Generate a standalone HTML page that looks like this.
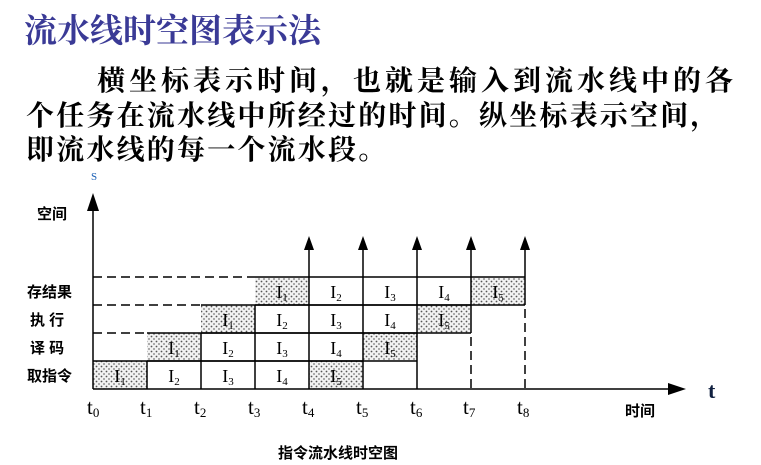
<!DOCTYPE html>
<html><head><meta charset="utf-8"><style>
html,body{margin:0;padding:0;background:#fff;}
body{width:761px;height:465px;position:relative;overflow:hidden;font-family:"Liberation Sans","Noto Sans CJK SC",sans-serif;}
.t{position:absolute;white-space:nowrap;}
.p{font-family:"Liberation Serif","Noto Serif CJK SC",serif;}
</style></head><body>
<div class="t p" style="left:24px;top:10px;font-size:33px;color:#3a3a96;font-weight:bold;letter-spacing:0px;line-height:44px;">流水线时空图表示法</div>
<div class="t p" style="left:97px;top:63px;font-size:28px;font-weight:bold;letter-spacing:4px;line-height:38px;">横坐标表示时间，也就是输入到流水线中的各</div>
<div class="t p" style="left:26px;top:98px;font-size:28px;font-weight:bold;letter-spacing:2.2px;line-height:38px;">个任务在流水线中所经过的时间。纵坐标表示空间，</div>
<div class="t p" style="left:26px;top:132px;font-size:28px;font-weight:bold;letter-spacing:2.2px;line-height:38px;">即流水线的每一个流水段。</div>
<svg width="761" height="465" style="position:absolute;left:0;top:0" xmlns="http://www.w3.org/2000/svg">
<defs>
<pattern id="d" width="5" height="5" patternUnits="userSpaceOnUse">
<rect width="5" height="5" fill="#f2f2f2"/><circle cx="1.5" cy="1.5" r="0.9" fill="#555"/><circle cx="4" cy="4" r="0.9" fill="#777"/>
</pattern>
</defs>
<text x="91" y="180" font-size="11" fill="#1a5fb4" font-family="Liberation Serif">S</text>
<g font-family="Liberation Sans,Noto Sans CJK SC,sans-serif" font-size="15" font-weight="bold" fill="#000">
<text x="37" y="219">空间</text>
<text x="27" y="297">存结果</text>
<text x="30" y="325">执 行</text>
<text x="30" y="353">译 码</text>
<text x="27" y="381">取指令</text>
<text x="625" y="416">时间</text>
<text x="278" y="458">指令流水线时空图</text>
</g>
<g fill="url(#d)">
<rect x="93" y="361" width="54" height="28"/><rect x="309" y="361" width="54" height="28"/>
<rect x="147" y="333" width="54" height="28"/><rect x="363" y="333" width="54" height="28"/>
<rect x="201" y="305" width="54" height="28"/><rect x="417" y="305" width="54" height="28"/>
<rect x="255" y="277" width="54" height="28"/><rect x="471" y="277" width="54" height="28"/>
</g>
<g stroke="#000" stroke-width="1.5" fill="none">
<line x1="93" y1="361" x2="363" y2="361"/>
<line x1="147" y1="333" x2="417" y2="333"/>
<line x1="201" y1="305" x2="471" y2="305"/>
<line x1="255" y1="277" x2="525" y2="277"/>
<line x1="147" y1="361" x2="417" y2="361"/>
<line x1="201" y1="333" x2="471" y2="333"/>
<line x1="255" y1="305" x2="525" y2="305"/>
<line x1="147" y1="361" x2="147" y2="389"/><line x1="201" y1="333" x2="201" y2="389"/>
<line x1="255" y1="305" x2="255" y2="389"/><line x1="309" y1="277" x2="309" y2="389"/>
<line x1="363" y1="240" x2="363" y2="389"/><line x1="417" y1="240" x2="417" y2="389"/>
<line x1="309" y1="240" x2="309" y2="277"/>
<line x1="471" y1="240" x2="471" y2="333"/><line x1="525" y1="240" x2="525" y2="305"/>
<line x1="93" y1="200" x2="93" y2="389"/>
<line x1="93" y1="389" x2="672" y2="389"/>
</g>
<g stroke="#000" stroke-width="1.5" stroke-dasharray="9,5">
<line x1="93" y1="277" x2="255" y2="277"/>
<line x1="93" y1="305" x2="201" y2="305"/>
<line x1="93" y1="333" x2="147" y2="333"/>
<line x1="471" y1="337" x2="471" y2="389"/>
<line x1="525" y1="309" x2="525" y2="389"/>
</g>
<g fill="#000">
<polygon points="93,193 87,211 99,211"/>
<polygon points="686,389 668,383 668,395"/>
<polygon points="309,236 304,250 314,250"/><polygon points="363,236 358,250 368,250"/>
<polygon points="417,236 412,250 422,250"/><polygon points="471,236 466,250 476,250"/>
<polygon points="525,236 520,250 530,250"/>
</g>
<text x="708" y="398" font-size="22" font-weight="bold" font-family="Liberation Serif" fill="#102040">t</text>
<g font-family="Liberation Serif,serif" font-size="18" text-anchor="middle" fill="#000">
<text x="120" y="382">I<tspan font-size="11" dy="3">1</tspan></text>
<text x="174" y="382">I<tspan font-size="11" dy="3">2</tspan></text>
<text x="228" y="382">I<tspan font-size="11" dy="3">3</tspan></text>
<text x="282" y="382">I<tspan font-size="11" dy="3">4</tspan></text>
<text x="336" y="382">I<tspan font-size="11" dy="3">5</tspan></text>
<text x="174" y="354">I<tspan font-size="11" dy="3">1</tspan></text>
<text x="228" y="354">I<tspan font-size="11" dy="3">2</tspan></text>
<text x="282" y="354">I<tspan font-size="11" dy="3">3</tspan></text>
<text x="336" y="354">I<tspan font-size="11" dy="3">4</tspan></text>
<text x="390" y="354">I<tspan font-size="11" dy="3">5</tspan></text>
<text x="228" y="326">I<tspan font-size="11" dy="3">1</tspan></text>
<text x="282" y="326">I<tspan font-size="11" dy="3">2</tspan></text>
<text x="336" y="326">I<tspan font-size="11" dy="3">3</tspan></text>
<text x="390" y="326">I<tspan font-size="11" dy="3">4</tspan></text>
<text x="444" y="326">I<tspan font-size="11" dy="3">5</tspan></text>
<text x="282" y="298">I<tspan font-size="11" dy="3">1</tspan></text>
<text x="336" y="298">I<tspan font-size="11" dy="3">2</tspan></text>
<text x="390" y="298">I<tspan font-size="11" dy="3">3</tspan></text>
<text x="444" y="298">I<tspan font-size="11" dy="3">4</tspan></text>
<text x="498" y="298">I<tspan font-size="11" dy="3">5</tspan></text>
</g>
<g font-family="Liberation Serif,serif" font-size="21" fill="#000">
<text x="87" y="414">t<tspan font-size="13" dy="3">0</tspan></text>
<text x="140" y="414">t<tspan font-size="13" dy="3">1</tspan></text>
<text x="194" y="414">t<tspan font-size="13" dy="3">2</tspan></text>
<text x="248" y="414">t<tspan font-size="13" dy="3">3</tspan></text>
<text x="302" y="414">t<tspan font-size="13" dy="3">4</tspan></text>
<text x="356" y="414">t<tspan font-size="13" dy="3">5</tspan></text>
<text x="410" y="414">t<tspan font-size="13" dy="3">6</tspan></text>
<text x="463" y="414">t<tspan font-size="13" dy="3">7</tspan></text>
<text x="517" y="414">t<tspan font-size="13" dy="3">8</tspan></text>
</g>
</svg>
</body></html>
